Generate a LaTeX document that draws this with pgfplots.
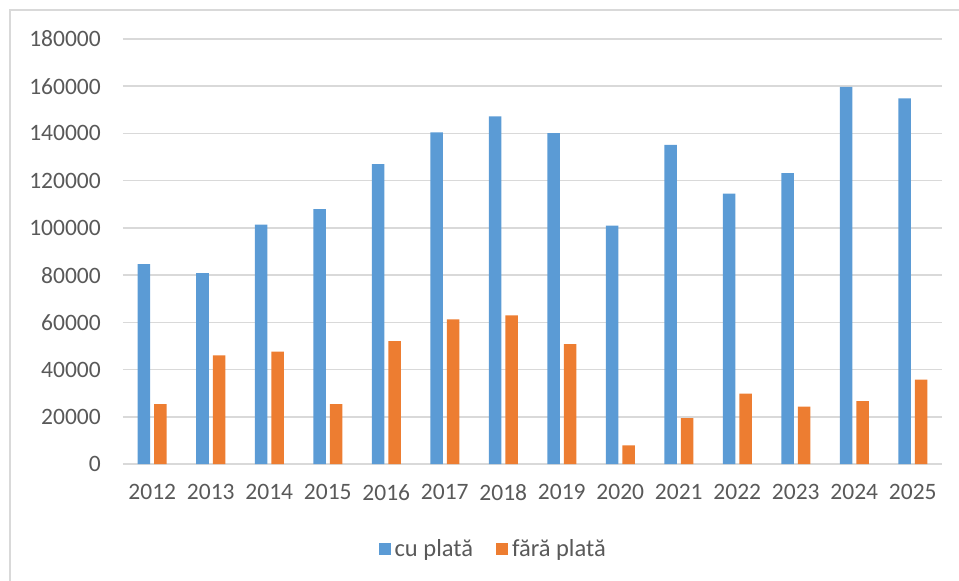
\documentclass[border=0pt]{standalone}
\usepackage{fontspec}
\setmainfont{Carlito}
\usepackage{pgfplots}
\pgfplotsset{compat=1.18}

\definecolor{cublue}{HTML}{5B9BD5}
\definecolor{faraorange}{HTML}{ED7D31}
\definecolor{gridgray}{HTML}{D9D9D9}
\definecolor{textgray}{HTML}{595959}

\begin{document}
\begin{tikzpicture}
\path[use as bounding box] (-123bp,-117bp) rectangle (836bp,464bp);
\draw[gridgray, line width=1.5bp] (-113bp,-120bp) -- (-113bp,454bp) -- (840bp,454bp);
\begin{axis}[
    at={(0,0)}, anchor=south west,
    scale only axis,
    width=819bp, height=425bp,
    ybar=4bp, bar width=12.5bp,
    xmin=-0.5, xmax=13.5,
    ymin=0, ymax=180000,
    ytick distance=20000,
    xtick=data,
    xticklabels={2012,2013,2014,2015,2016,2017,2018,2019,2020,2021,2022,2023,2024,2025},
    axis line style={draw=none},
    major tick length=0pt,
    ymajorgrids,
    major grid style={gridgray, line width=1.6bp},
    scaled y ticks=false,
    /pgf/number format/.cd, assume math mode=true, set thousands separator={}, fixed,
    /pgfplots/.cd,
    tick label style={font=\fontsize{23.5bp}{26bp}\selectfont, text=textgray},
    yticklabel style={inner sep=0pt, xshift=-22bp},
    xticklabel style={inner sep=0pt, yshift=-20bp},
    legend style={
        at={(0.452,-0.2)}, anchor=center,
        draw=none, inner sep=0pt,
        font=\fontsize{24.5bp}{27bp}\selectfont, text=textgray,
        legend columns=-1,
        /tikz/every even column/.append style={column sep=21bp},
        nodes={inner sep=2bp},
    },
    legend image code/.code={\fill[#1] (0bp,-6bp) rectangle (12bp,6bp); \path (14bp,0bp);},
]
\addplot[fill=cublue, draw=none] coordinates {
    (0,84600) (1,80800) (2,101400) (3,107900) (4,127000) (5,140500) (6,147200)
    (7,140100) (8,101000) (9,135200) (10,114500) (11,123200) (12,159700) (13,154800)
};
\addplot[fill=faraorange, draw=none] coordinates {
    (0,25400) (1,46000) (2,47600) (3,25400) (4,52000) (5,61300) (6,62900)
    (7,50800) (8,7900) (9,19400) (10,29800) (11,24300) (12,26600) (13,35700)
};
\legend{cu plată, fără plată}
\end{axis}
\end{tikzpicture}
\end{document}
